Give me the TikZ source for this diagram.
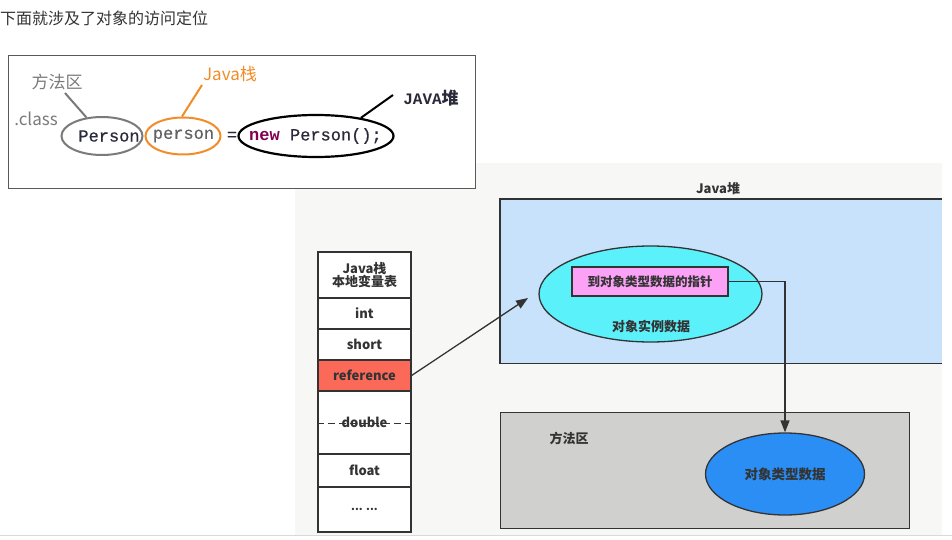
\documentclass[tikz,border=0pt]{standalone}
\usepackage{fontspec}
\setmainfont{Noto Sans CJK SC}
\newfontfamily\codefont[FakeBold=0.6]{Liberation Mono}
\newfontfamily\codebold{Liberation Mono Bold}
\usetikzlibrary{arrows.meta,shapes.geometric}
\definecolor{bgpanel}{HTML}{F7F8F6}
\definecolor{heapblue}{HTML}{C8E2FB}
\definecolor{instcyan}{HTML}{5BF1FB}
\definecolor{ptrpink}{HTML}{FBA2F7}
\definecolor{refred}{HTML}{FB6A59}
\definecolor{methgray}{HTML}{D0D1CF}
\definecolor{ctypeblue}{HTML}{2A8EF5}
\definecolor{jorange}{HTML}{F28C28}
\definecolor{mgray}{HTML}{7A7A7A}
\definecolor{codetext}{HTML}{2A2A3A}
\definecolor{kwpurple}{HTML}{800050}
\definecolor{linec}{HTML}{333333}
\definecolor{titlec}{HTML}{333333}
\begin{document}
\begin{tikzpicture}[x=1pt,y=-1pt,
  lbl/.style={font=\fontsize{13}{15}\selectfont\bfseries, text=linec, inner sep=0},
  cell/.style={draw=linec, line width=1.3, minimum width=93, inner sep=0, fill=white, font=\fontsize{13}{15}\selectfont\bfseries, text=linec, align=center},
  code/.style={font=\codefont\fontsize{17}{19}\selectfont, text=codetext, inner sep=0},
  tip/.style={-{Triangle[length=12pt,width=9pt]}},
  conn/.style={draw=linec, line width=1.3}]
\useasboundingbox (0,0) rectangle (952,540);
\fill[white] (0,0) rectangle (952,540);
\fill[bgpanel] (295,163) rectangle (942,535);
\draw[black!15, line width=1.5] (0,535.5) -- (952,535.5);

% title
\node[anchor=west, font=\fontsize{16}{18}\selectfont, text=titlec, inner sep=0] (title) at (0,18) {下面就涉及了对象的访问定位};

% code box
\node[draw=black!65, fill=white, line width=1.2, minimum width=467, minimum height=133, inner sep=0, anchor=north west] (codebox) at (8,55) {};
\node[ellipse, draw=mgray, line width=2, minimum width=81, minimum height=38, inner sep=0] (clsell) at (102,136) {};
\node[ellipse, draw=jorange, line width=2, minimum width=75, minimum height=37, inner sep=0] (perell) at (183,136) {};
\node[ellipse, draw=black, line width=2.2, minimum width=155, minimum height=42, inner sep=0] (newell) at (316,136) {};
\node[code] (cls) at (109,136) {Person};
\node[code, text=mgray!80!black] (per) at (183.5,136) {person};
\node[code] (eq) at (232,136) {=};
\node[code] (newexpr) at (315.5,136) {\textcolor{kwpurple}{\codebold new} Person();};

\node[font=\fontsize{17}{19}\selectfont, text=mgray, inner sep=0] (mlabel) at (57,82) {方法区};
\node[font=\fontsize{17}{19}\selectfont, text=mgray, inner sep=0] (clabel) at (36,119) {.class};
\node[font=\fontsize{17}{19}\selectfont, text=jorange, inner sep=0] (slabel) at (230,74) {Java栈};
\node[font=\fontsize{17}{19}\selectfont\bfseries, text=codetext, inner sep=0] (hlabel) at (431,98) {{\codebold\fontsize{16}{18}\selectfont JAVA}堆};

\coordinate (m1) at (65,93);
\coordinate (s1) at (202,85);
\coordinate (h1) at (393,95);
\draw[mgray, line width=2] (m1) -- (clsell.130);
\draw[jorange, line width=2] (s1) -- (perell.93);
\draw[black, line width=2] (h1) -- (newell.22);

% stack table
\node[cell, minimum height=46] (hdr) at (364.5,275) {Java栈\\[-2pt]本地变量表};
\node[cell, minimum height=31] (int) at (364.5,313.5) {int};
\node[cell, minimum height=31] (short) at (364.5,344.5) {short};
\node[cell, minimum height=31, fill=refred] (ref) at (364.5,375.5) {reference};
\node[cell, minimum height=63] (dbl) at (364.5,422.5) {double};
\node[cell, minimum height=32] (flt) at (364.5,470.5) {float};
\node[cell, minimum height=45] (dots) at (364.5,509.5) {\fontsize{11}{13}\selectfont ... ...};
\draw[linec, line width=1.5, dash pattern=on 7pt off 4pt] ([yshift=-1pt]dbl.west) -- ([yshift=-1pt]dbl.east);

% heap
\node[lbl] (heaplbl) at (718,189) {Java堆};
\node[fill=heapblue, minimum width=442, minimum height=164, inner sep=0, anchor=north west] (heap) at (500,199) {};
\draw[conn] (heap.north east) -- (heap.north west) -- (heap.south west) -- (heap.south east);
\node[ellipse, draw=linec, line width=1.3, fill=instcyan, minimum width=223, minimum height=96, inner sep=0] (inst) at (650.5,294) {};
\node[draw=linec, line width=1.3, fill=ptrpink, minimum width=156, minimum height=29, inner sep=0, font=\fontsize{12.5}{14}\selectfont\bfseries, text=linec] (ptr) at (650,281.5) {到对象类型数据的指针};
\node[lbl] (instlbl) at (651,326) {对象实例数据};

% method area
\node[draw=linec, line width=1.3, fill=methgray, minimum width=409, minimum height=116, inner sep=0, anchor=north west] (method) at (500,412) {};
\node[lbl] (methlbl) at (569,438) {方法区};
\node[ellipse, draw=linec, line width=1.3, fill=ctypeblue, minimum width=159, minimum height=82, inner sep=0, font=\fontsize{13.5}{15}\selectfont\bfseries, text=linec] (ctype) at (785,474) {对象类型数据};

% connectors
\coordinate (reftip) at (528,298);
\draw[conn, tip] (ref.east) -- (reftip);
\draw[conn, tip] (ptr.east) -| (ctype.north);
\end{tikzpicture}
\end{document}
